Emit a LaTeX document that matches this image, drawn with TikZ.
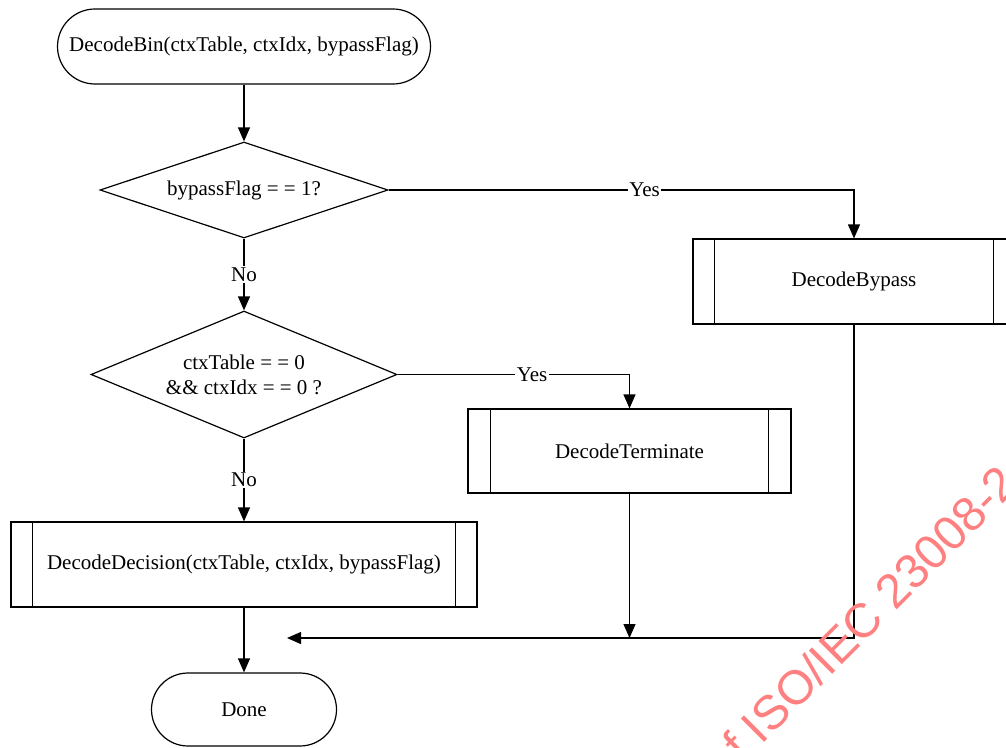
\documentclass[tikz,border=0pt]{standalone}
\usepackage{fontspec}
\setmainfont{Liberation Serif}
\newfontfamily\wmfont{Liberation Sans}
\usetikzlibrary{arrows.meta,shapes.geometric}
\tikzset{
  every node/.style={font=\fontsize{21}{25}\selectfont},
  line/.style={line width=1.2pt, draw=black},
  arr/.style={line, -{Triangle[length=14pt,width=12pt]}},
  term/.style={line, rectangle, rounded corners=#1, inner sep=0pt},
  dec/.style={line, diamond, inner sep=0pt, align=center},
  proc/.style={line, rectangle, inner sep=0pt},
  lbl/.style={fill=white, inner sep=1.5pt}
}
\newcommand{\subbars}[2]{%
  \draw[line] ([xshift=#2]#1.north west) -- ([xshift=#2]#1.south west);
  \draw[line] ([xshift=-#2]#1.north east) -- ([xshift=-#2]#1.south east);}
\begin{document}
\begin{tikzpicture}[x=1pt,y=-1pt]
\clip (0,0) rectangle (1006,747);
\fill[white] (0,0) rectangle (1006,747);

\node[term=37.5pt, minimum width=373pt, minimum height=75pt] (start) at (244,46.5) {DecodeBin(ctxTable, ctxIdx, bypassFlag)};
\node[dec, aspect=3, minimum width=288pt, minimum height=96pt] (d1) at (244,190) {bypassFlag = = 1?};
\node[proc, minimum width=322pt, minimum height=85pt] (bypass) at (854,281.5) {DecodeBypass};
\subbars{bypass}{22pt}
\node[dec, aspect=2.41, minimum width=306pt, minimum height=127pt] (d2) at (244,374.5) {ctxTable = = 0\\\&\& ctxIdx = = 0 ?};
\node[proc, minimum width=323pt, minimum height=84pt] (termn) at (629.5,451) {DecodeTerminate};
\subbars{termn}{23pt}
\node[proc, minimum width=466pt, minimum height=85pt] (decis) at (244,564.5) {DecodeDecision(ctxTable, ctxIdx, bypassFlag)};
\subbars{decis}{22pt}
\node[term=36.5pt, minimum width=185pt, minimum height=73pt] (done) at (244,709.5) {Done};

\coordinate (merge) at (287,638);

\draw[arr] (start) -- (d1);
\draw[arr] (d1.east) -- node[lbl, pos=0.55] {Yes} (bypass.north |- d1.east) -- (bypass.north);
\draw[arr] (d1) -- node[lbl] {No} (d2);
\draw[arr] (d2.east) -- node[lbl, pos=0.58] {Yes} (termn.north |- d2.east) -- (termn.north);
\draw[arr] (d2) -- node[lbl] {No} (decis);
\draw[arr] (decis) -- (done);
\draw[arr] (termn.south) -- (termn.south |- merge);
\draw[arr] (bypass.south) |- (merge);

\node[text=red!50, font=\wmfont\fontsize{48}{48}\selectfont, rotate=45, anchor=base west, inner sep=0pt] (wm) at (743,764) {f ISO/IEC 23008-2};
\end{tikzpicture}
\end{document}
